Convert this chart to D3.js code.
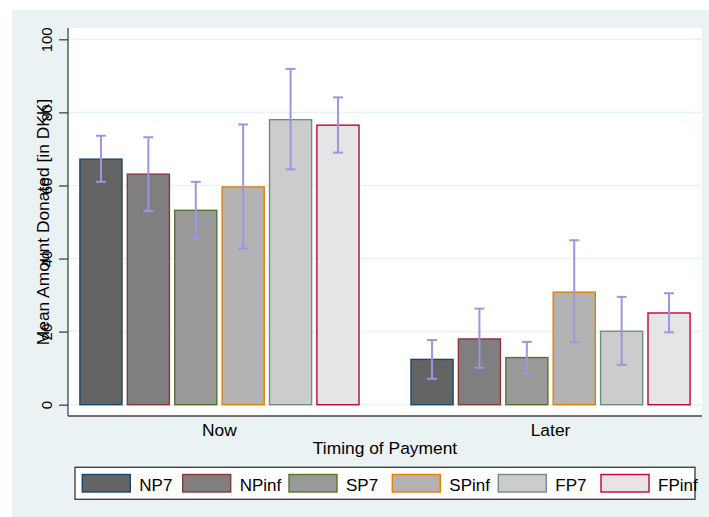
<!DOCTYPE html>
<html>
<head>
<meta charset="utf-8">
<script src="https://cdn.jsdelivr.net/npm/d3@7.9.0/dist/d3.min.js"></script>
<style>
  body { margin: 0; background: #fff; }
  svg { display: block; font-family: "Liberation Sans", Arial, sans-serif; }
</style>
</head>
<body>
<svg id="chart" width="709" height="517"></svg>
<script>
// ================================
// Data
// ================================
const timings = ["Now", "Later"];
const treatments = ["NP7", "NPinf", "SP7", "SPinf", "FP7", "FPinf"];
const meanNow = [67.2, 63.1, 53.2, 59.6, 78.0, 76.5];
const meanLater = [12.4, 18.0, 12.9, 30.8, 20.1, 25.1];
const ciLowNow = [61.0, 53.0, 45.4, 42.7, 64.4, 69.0];
const ciHighNow = [73.6, 73.2, 61.0, 76.7, 91.9, 84.1];
const ciLowLater = [7.1, 10.1, 8.6, 17.1, 10.9, 19.8];
const ciHighLater = [17.7, 26.3, 17.2, 45.0, 29.5, 30.5];
const yTicks = [0, 20, 40, 60, 80, 100];

const fills = ["#646464", "#7f7f7f", "#999999", "#b3b3b3", "#cccccc", "#e5e5e5"];
const strokes = ["#1a476f", "#90353b", "#55752f", "#e37e00", "#6e8e84", "#c10534"];

const rows = [];
timings.forEach((t, g) => {
  const mean = g === 0 ? meanNow : meanLater;
  const lo = g === 0 ? ciLowNow : ciLowLater;
  const hi = g === 0 ? ciHighNow : ciHighLater;
  treatments.forEach((k, i) => {
    rows.push({ timing: t, key: k, i, value: mean[i], lo: lo[i], hi: hi[i] });
  });
});

// ================================
// Layout
// ================================
const svg = d3.select("#chart");
const plot = { left: 68, right: 702, top: 28, bottom: 416 };

svg.append("rect")
  .attr("x", 12).attr("y", 10).attr("width", 697).attr("height", 507)
  .attr("fill", "#eaf2f3");

svg.append("rect")
  .attr("x", plot.left).attr("y", plot.top)
  .attr("width", plot.right - plot.left).attr("height", plot.bottom - plot.top)
  .attr("fill", "#ffffff");

const y = d3.scaleLinear().domain([0, 100]).range([404.7, 39.3]);

const x0 = d3.scaleBand()
  .domain(timings)
  .range([plot.left, plot.right])
  .paddingInner(0.157)
  .paddingOuter(0.036);

const x1 = d3.scaleBand()
  .domain(treatments)
  .range([0, x0.bandwidth()])
  .paddingInner(0.112)
  .paddingOuter(0);

// gridlines
svg.append("g")
  .selectAll("line")
  .data(yTicks)
  .join("line")
  .attr("x1", plot.left).attr("x2", plot.right)
  .attr("y1", (d) => y(d)).attr("y2", (d) => y(d))
  .attr("stroke", "#eaf2f3")
  .attr("stroke-width", 1.5);

// ================================
// Bars
// ================================
svg.append("g")
  .selectAll("rect")
  .data(rows)
  .join("rect")
  .attr("x", (d) => x0(d.timing) + x1(d.key))
  .attr("y", (d) => y(d.value))
  .attr("width", x1.bandwidth())
  .attr("height", (d) => y(0) - y(d.value))
  .attr("fill", (d) => fills[d.i])
  .attr("stroke", (d) => strokes[d.i])
  .attr("stroke-width", 1.4);

// error bars
const errG = svg.append("g")
  .attr("stroke", "#9d95e2")
  .attr("stroke-width", 2);
const cx = (d) => x0(d.timing) + x1(d.key) + x1.bandwidth() / 2;

errG.selectAll("line.v")
  .data(rows)
  .join("line")
  .attr("class", "v")
  .attr("x1", cx).attr("x2", cx)
  .attr("y1", (d) => y(d.lo)).attr("y2", (d) => y(d.hi));

errG.selectAll("line.hi")
  .data(rows)
  .join("line")
  .attr("class", "hi")
  .attr("x1", (d) => cx(d) - 5).attr("x2", (d) => cx(d) + 5)
  .attr("y1", (d) => y(d.hi)).attr("y2", (d) => y(d.hi));

errG.selectAll("line.lo")
  .data(rows)
  .join("line")
  .attr("class", "lo")
  .attr("x1", (d) => cx(d) - 5).attr("x2", (d) => cx(d) + 5)
  .attr("y1", (d) => y(d.lo)).attr("y2", (d) => y(d.lo));

// ================================
// Axes
// ================================
const yAxis = svg.append("g")
  .attr("transform", `translate(${plot.left},0)`)
  .call(d3.axisLeft(y).tickValues(yTicks).tickSize(9).tickPadding(0).tickFormat(d3.format("d")));
yAxis.select(".domain").remove();
yAxis.selectAll(".tick line").attr("stroke", "#444").attr("stroke-width", 1.3);
yAxis.selectAll(".tick text")
  .attr("x", null).attr("dy", null)
  .attr("text-anchor", "middle")
  .attr("transform", "translate(-16,0) rotate(-90)")
  .attr("font-size", 15)
  .attr("font-family", "Liberation Sans, Arial, sans-serif")
  .attr("fill", "#000");

svg.append("line")
  .attr("x1", plot.left).attr("x2", plot.left)
  .attr("y1", plot.top).attr("y2", plot.bottom)
  .attr("stroke", "#444").attr("stroke-width", 1.3);
svg.append("line")
  .attr("x1", plot.left).attr("x2", plot.right)
  .attr("y1", plot.bottom).attr("y2", plot.bottom)
  .attr("stroke", "#444").attr("stroke-width", 1.3);

// category labels
svg.append("g")
  .selectAll("text")
  .data(timings)
  .join("text")
  .attr("x", (d) => x0(d) + x0.bandwidth() / 2)
  .attr("y", 436)
  .attr("text-anchor", "middle")
  .attr("font-size", 17.4)
  .text((d) => d);

svg.append("text")
  .attr("x", (plot.left + plot.right) / 2)
  .attr("y", 454)
  .attr("text-anchor", "middle")
  .attr("font-size", 17.4)
  .text("Timing of Payment");

svg.append("text")
  .attr("transform", `translate(48.5,${(plot.top + plot.bottom) / 2}) rotate(-90)`)
  .attr("text-anchor", "middle")
  .attr("font-size", 17.4)
  .text("Mean Amount Donated [in DKK]");

// ================================
// Legend
// ================================
const legendX = [82.3, 182.7, 289, 392.3, 498.3, 601];
svg.append("rect")
  .attr("x", 75).attr("y", 467.3).attr("width", 620).attr("height", 32)
  .attr("fill", "#fff").attr("stroke", "#444").attr("stroke-width", 1.4);

const items = svg.append("g")
  .selectAll("g")
  .data(treatments)
  .join("g")
  .attr("transform", (_, i) => `translate(${legendX[i]},0)`);

items.append("rect")
  .attr("x", 0).attr("y", 474.5).attr("width", 48).attr("height", 17.5)
  .attr("fill", (_, i) => fills[i])
  .attr("stroke", (_, i) => strokes[i])
  .attr("stroke-width", 1.4);

items.append("text")
  .attr("x", 57).attr("y", 491)
  .attr("font-size", 17)
  .text((d) => d);
</script>
</body>
</html>
